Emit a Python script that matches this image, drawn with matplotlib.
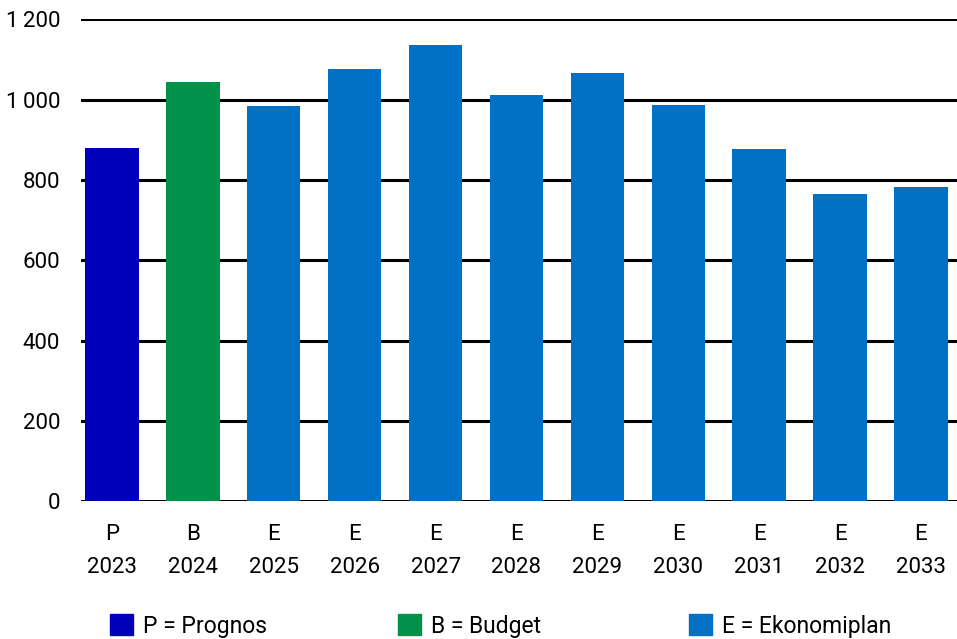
import matplotlib.pyplot as plt
from matplotlib.patches import Patch

plt.rcParams['font.family'] = ['Roboto', 'DejaVu Sans']

# Värden per år
years = ['2023', '2024', '2025', '2026', '2027', '2028', '2029', '2030', '2031', '2032', '2033']
kinds = ['P', 'B', 'E', 'E', 'E', 'E', 'E', 'E', 'E', 'E', 'E']
values = [880, 1044, 984, 1076, 1136, 1011, 1066, 987, 877, 765, 782]

colors = {'P': '#0000BB', 'B': '#00914A', 'E': '#0071C5'}
legend_labels = ['P = Prognos', 'B = Budget', 'E = Ekonomiplan']
legend_kinds = ['P', 'B', 'E']

yticks = [0, 200, 400, 600, 800, 1000, 1200]
ytick_labels = ['0', '200', '400', '600', '800', '1\u2009000', '1\u2009200']

fig = plt.figure(figsize=(9.57, 6.39), dpi=100)
ax = fig.add_axes([81 / 957, 1 - 501.3 / 639, 1 - 81 / 957, (501.3 - 19.3) / 639])

x = range(len(years))
ax.bar(x, values, width=0.66, color=[colors[k] for k in kinds], zorder=2)

ax.set_ylim(0, 1200)
ax.set_xlim(-0.383, 10.445)
ax.set_yticks(yticks)
ax.set_yticklabels(ytick_labels)
ax.set_xticks(list(x))
ax.set_xticklabels([k + '\n' + y for k, y in zip(kinds, years)], linespacing=1.75)

ax.grid(axis='y', color='black', linewidth=2.2, zorder=0)
ax.set_axisbelow(True)
for s in ax.spines.values():
    s.set_visible(False)
ax.tick_params(axis='both', length=0, labelsize=16)
ax.tick_params(axis='y', pad=15)
ax.tick_params(axis='x', pad=16)

# Teckenförklaring, tre separata poster
starts = [110, 398, 689]
for kind, label, sx in zip(legend_kinds, legend_labels, starts):
    leg = fig.legend(handles=[Patch(color=colors[kind], label=label)],
                     loc='center left', bbox_to_anchor=(sx / 957, 1 - 626 / 639),
                     frameon=False, fontsize=16.5, handlelength=1.0, handleheight=1.0,
                     handletextpad=0.45, borderpad=0, borderaxespad=0)

plt.savefig('out.png', dpi=100)
